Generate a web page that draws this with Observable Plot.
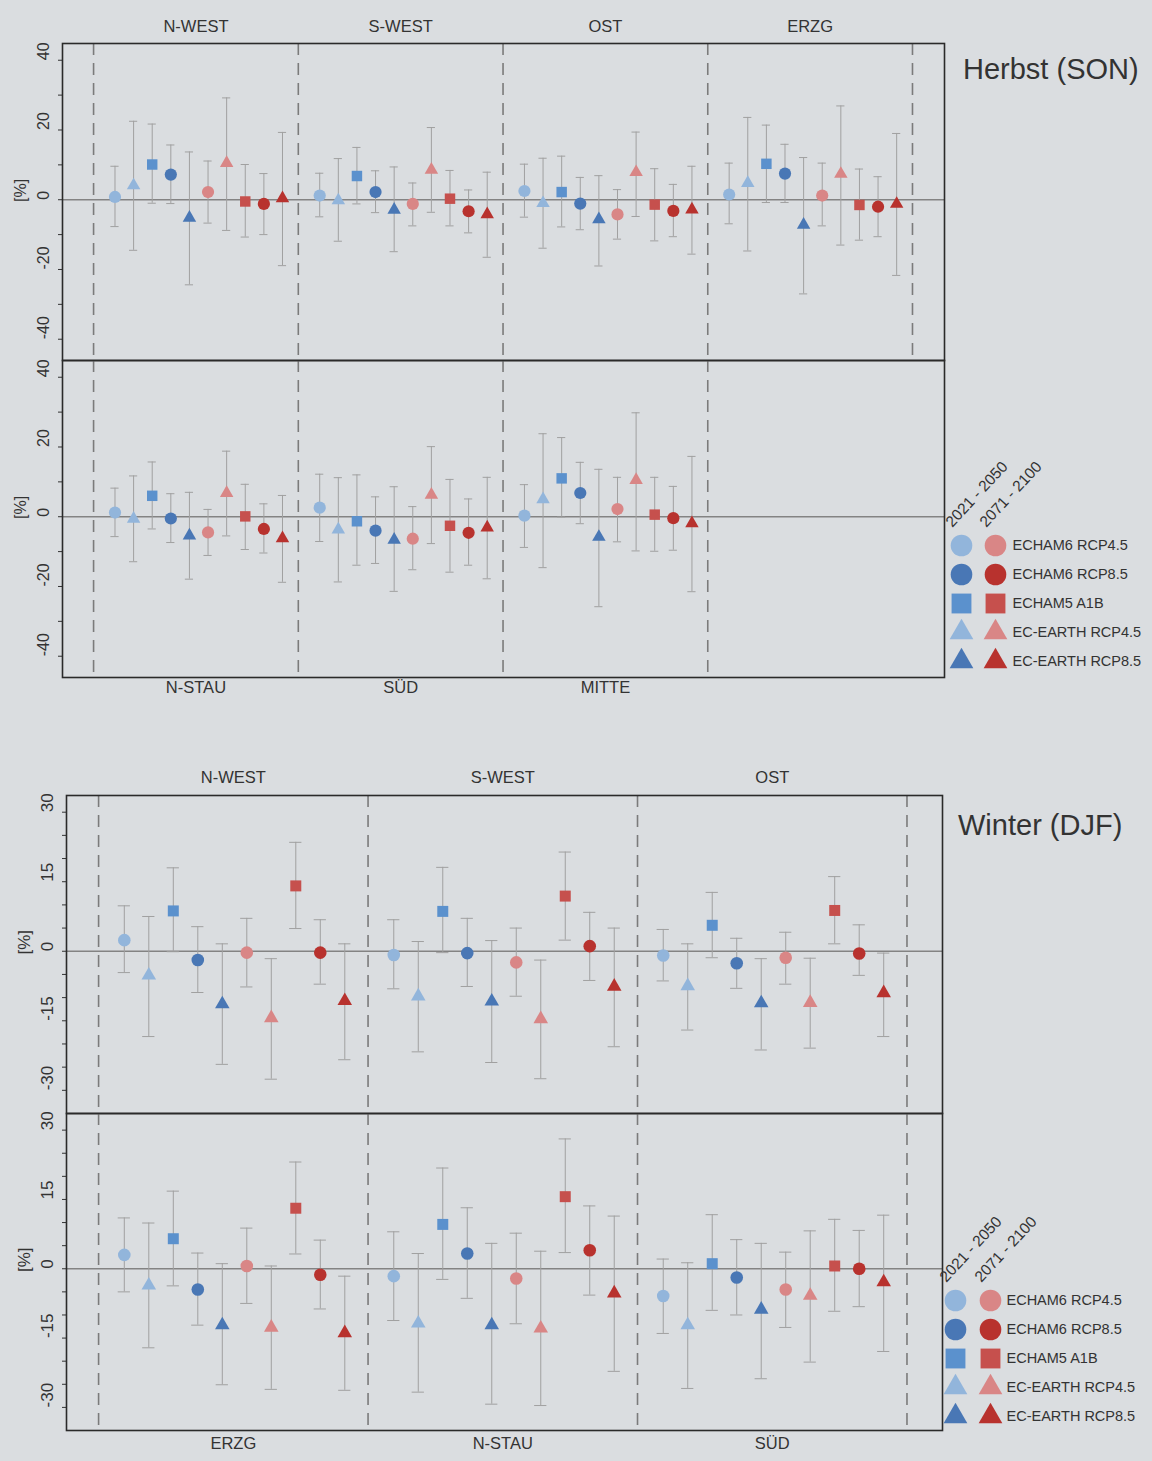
<!DOCTYPE html>
<html><head><meta charset="utf-8">
<script src="https://cdn.jsdelivr.net/npm/d3@7"></script>
<script src="https://cdn.jsdelivr.net/npm/@observablehq/plot@0.6"></script>
<style>
body{margin:0;background:#dadde0;}
#root{position:relative;width:1152px;height:1461px;overflow:hidden;font-family:"Liberation Sans",Arial,sans-serif;color:#333;}
#root svg{position:absolute;}
.title{position:absolute;font-size:29px;line-height:1;color:#333;white-space:nowrap;}
</style></head><body><div id="root"></div>
<script>
// ---------- categories ----------
const slotModels = ["ECHAM6 RCP4.5","EC-EARTH RCP4.5","ECHAM5 A1B","ECHAM6 RCP8.5","EC-EARTH RCP8.5"];
const legendModels = ["ECHAM6 RCP4.5","ECHAM6 RCP8.5","ECHAM5 A1B","EC-EARTH RCP4.5","EC-EARTH RCP8.5"];
const periods = ["2021 - 2050","2071 - 2100"];

// ---------- Herbst (SON), upper panel ----------
const herbstUpperRegions = ["N-WEST","S-WEST","OST","ERZG"];
const herbstUpperMean = [
  [0.8, 4.1, 10.1, 7.2, -5.2, 2.2, 10.5, -0.5, -1.2, 0.4],
  [1.2, -0.2, 6.8, 2.2, -2.9, -1.2, 8.6, 0.3, -3.3, -4.2],
  [2.5, -1.0, 2.2, -1.1, -5.6, -4.2, 7.9, -1.4, -3.2, -2.8],
  [1.5, 4.8, 10.3, 7.5, -7.2, 1.2, 7.4, -1.5, -2.0, -1.2]
];
const herbstUpperHi = [
  [9.6, 22.5, 21.7, 15.7, 13.7, 11.1, 29.2, 10.1, 7.5, 19.3],
  [7.6, 11.8, 15.0, 8.3, 9.4, 4.8, 20.7, 8.4, 2.8, 7.9],
  [10.2, 11.9, 12.5, 6.4, 6.9, 2.9, 19.4, 8.9, 4.4, 9.6],
  [10.5, 23.6, 21.4, 15.9, 12.1, 10.5, 26.9, 8.8, 6.6, 19.0]
];
const herbstUpperLo = [
  [-7.7, -14.5, -1.0, -1.1, -24.4, -6.7, -8.8, -10.7, -10.0, -18.9],
  [-4.9, -11.9, -1.2, -3.7, -14.9, -7.5, -3.6, -7.5, -9.5, -16.5],
  [-5.0, -13.9, -7.8, -8.6, -19.0, -11.3, -4.8, -11.8, -10.6, -15.6],
  [-6.9, -14.7, -0.8, -0.8, -27.0, -7.5, -13.0, -11.6, -10.6, -21.7]
];

// ---------- Herbst (SON), lower panel ----------
const herbstLowerRegions = ["N-STAU","SÜD","MITTE"];
const herbstLowerMean = [
  [1.2, -0.6, 6.0, -0.5, -5.4, -4.5, 6.8, 0.1, -3.5, -6.2],
  [2.6, -3.7, -1.3, -4.0, -6.6, -6.3, 6.3, -2.6, -4.6, -3.1],
  [0.3, 5.0, 11.0, 6.8, -5.8, 2.2, 10.5, 0.6, -0.4, -1.9]
];
const herbstLowerHi = [
  [8.2, 11.7, 15.7, 6.6, 7.0, 2.1, 18.8, 9.3, 3.7, 6.1],
  [12.2, 11.2, 12.0, 5.7, 8.6, 2.9, 20.1, 10.7, 5.1, 11.3],
  [9.2, 23.8, 22.7, 15.6, 13.6, 11.3, 29.8, 11.3, 8.7, 17.3]
];
const herbstLowerLo = [
  [-5.7, -12.9, -3.5, -7.4, -17.9, -11.1, -5.5, -9.4, -10.4, -18.8],
  [-7.1, -18.7, -13.9, -13.4, -21.4, -15.2, -7.7, -15.9, -13.9, -17.8],
  [-8.8, -14.6, -0.1, -2.0, -25.8, -7.2, -9.8, -9.9, -9.6, -21.5]
];

// ---------- Winter (DJF), upper panel ----------
const winterUpperRegions = ["N-WEST","S-WEST","OST"];
const winterUpperMean = [
  [2.4, -5.2, 8.7, -1.9, -11.4, -0.3, -14.4, 14.1, -0.3, -10.7],
  [-0.8, -9.7, 8.6, -0.4, -10.8, -2.4, -14.6, 11.9, 1.1, -7.6],
  [-0.9, -7.5, 5.6, -2.6, -11.2, -1.4, -11.1, 8.8, -0.5, -9.0]
];
const winterUpperHi = [
  [9.8, 7.5, 18.0, 5.3, 1.6, 7.1, -1.6, 23.5, 6.8, 1.6],
  [6.8, 2.1, 18.1, 7.1, 2.3, 5.0, -1.9, 21.4, 8.4, 5.0],
  [4.7, 1.6, 12.7, 2.8, -1.6, 4.1, -1.5, 16.1, 5.7, -0.4]
];
const winterUpperLo = [
  [-4.6, -18.4, -0.1, -8.9, -24.4, -7.7, -27.6, 4.9, -7.1, -23.4],
  [-8.1, -21.7, -0.3, -7.6, -24.0, -9.7, -27.5, 2.4, -6.3, -20.6],
  [-6.4, -17.0, -1.4, -8.0, -21.3, -7.1, -20.9, 1.6, -5.2, -18.4]
];

// ---------- Winter (DJF), lower panel ----------
const winterLowerRegions = ["ERZG","N-STAU","SÜD"];
const winterLowerMean = [
  [3.0, -3.6, 6.5, -4.5, -12.2, 0.6, -12.7, 13.1, -1.3, -13.9],
  [-1.6, -11.8, 9.6, 3.3, -12.2, -2.1, -12.9, 15.6, 4.0, -5.3],
  [-5.9, -12.2, 1.1, -1.9, -8.8, -4.5, -5.8, 0.6, 0.0, -2.9]
];
const winterLowerHi = [
  [11.0, 9.9, 16.8, 3.4, 1.1, 8.8, 0.6, 23.1, 6.2, -1.6],
  [8.0, 3.3, 21.8, 13.2, 5.5, 7.7, 3.8, 28.1, 13.6, 11.4],
  [2.1, 1.3, 11.7, 6.3, 5.5, 3.6, 8.2, 10.7, 8.3, 11.6]
];
const winterLowerLo = [
  [-5.0, -17.1, -3.7, -12.2, -25.1, -7.5, -26.1, 3.2, -8.7, -26.3],
  [-11.2, -26.7, -2.3, -6.4, -29.3, -11.9, -29.6, 3.5, -5.7, -22.2],
  [-14.0, -25.9, -9.0, -10.0, -23.8, -12.7, -20.2, -9.2, -8.2, -17.9]
];

// ---------- axis tick labels ----------
const herbstTicks = [-40, -30, -20, -10, 0, 10, 20, 30, 40];
const herbstTickLabels = [-40, -20, 0, 20, 40];
const winterTicks = [-30, -25, -20, -15, -10, -5, 0, 5, 10, 15, 20, 25, 30];
const winterTickLabels = [-30, -15, 0, 15, 30];

// ---------- styles ----------
const FONT = "Liberation Sans, Arial, Helvetica, sans-serif";
const symbolNames = ["circle","triangle","square","circle","triangle"];
const levelColors = {
  "2021 - 2050": {"4.5": "#92b5db", "A1B": "#5b91cd", "8.5": "#4977b5"},
  "2071 - 2100": {"4.5": "#d98686", "A1B": "#c6504d", "8.5": "#b8322e"}
};
function level(m) { return m.includes("4.5") ? "4.5" : m.includes("8.5") ? "8.5" : "A1B"; }
const keys = [], keyColors = [];
for (const p of periods) for (const m of slotModels) { keys.push(m + "|" + p); keyColors.push(levelColors[p][level(m)]); }
const colorScale = {domain: keys, range: keyColors};
const symbolScale = {domain: slotModels, range: symbolNames};
function sizeFor(m, base) {
  const s = symbolNames[slotModels.indexOf(m)];
  return s === "triangle" ? base.tri : s === "square" ? base.sq : base.circ;
}

function rows(regions, mean, hi, lo, offset) {
  const out = [];
  regions.forEach((r, i) => {
    for (let j = 0; j < 10; j++) {
      const period = periods[j < 5 ? 0 : 1];
      const model = slotModels[j % 5];
      out.push({region: r, pos: i * 11 + offset + j, model, period, key: model + "|" + period,
        mean: mean[i][j], hi: hi[i][j], lo: lo[i][j]});
    }
  });
  return out;
}

function panel(o) {
  const data = rows(o.regions, o.mean, o.hi, o.lo, o.offset);
  const dividers = d3.range(o.nDiv).map(i => i * 11);
  const baseline = [0];
  const svg = Plot.plot({
    width: 1152, height: o.marginTop + o.frameH + o.marginBottom,
    marginTop: o.marginTop, marginBottom: o.marginBottom, marginLeft: o.marginLeft, marginRight: o.marginRight,
    x: {domain: o.xDomain, axis: null},
    y: {domain: o.yDomain, axis: null},
    color: colorScale,
    symbol: symbolScale,
    r: {type: "identity"},
    style: {background: "transparent", overflow: "visible", fontFamily: FONT, color: "#333"},
    marks: [
      Plot.ruleX(dividers, {stroke: "#7b7b7b", strokeWidth: 1.6, strokeDasharray: "12,8"}),
      Plot.ruleY(baseline, {stroke: "#838383", strokeWidth: 1.4}),
      Plot.ruleX(data, {x: "pos", y1: "lo", y2: "hi", stroke: "#a0a0a0", strokeWidth: 1}),
      Plot.ruleY(data, {y: "hi", x1: d => d.pos - o.cap, x2: d => d.pos + o.cap, stroke: "#a0a0a0", strokeWidth: 1}),
      Plot.ruleY(data, {y: "lo", x1: d => d.pos - o.cap, x2: d => d.pos + o.cap, stroke: "#a0a0a0", strokeWidth: 1}),
      Plot.dot(data, {x: "pos", y: "mean", symbol: "model", fill: "key", r: d => sizeFor(d.model, o.sizes), stroke: "none"}),
      Plot.axisY(o.ticks, {tickSize: 4, tickFormat: () => "", label: null, stroke: "#333"}),
      Plot.text(o.tickLabels, {y: d => d, text: d => String(d), frameAnchor: "left", dx: o.tickDx, rotate: -90, fontSize: o.tickFont, fill: "#333"}),
      Plot.text(["[%]"], {text: d => d, frameAnchor: "left", dx: o.unitDx, rotate: -90, fontSize: o.tickFont, fill: "#333"}),
      Plot.text(o.regions, {x: (d, i) => i * 11 + 5.5, text: d => d, frameAnchor: o.labelSide, dy: o.labelDy, fontSize: 16.5, fill: "#333"}),
      Plot.frame({stroke: "#2a2a2a", strokeWidth: 1.6})
    ]
  });
  svg.style.left = "0px";
  svg.style.top = o.top + "px";
  return svg;
}

function legend(o) {
  const items = [];
  for (const m of legendModels) for (const p of periods) items.push({model: m, period: p, key: m + "|" + p});
  const svg = Plot.plot({
    width: o.width, height: o.height, margin: 0,
    x: {type: "point", domain: periods, range: o.xRange, padding: 0, axis: null},
    y: {type: "point", domain: legendModels, range: o.yRange, padding: 0, axis: null},
    color: colorScale,
    symbol: symbolScale,
    r: {type: "identity"},
    style: {background: "transparent", overflow: "visible", fontFamily: FONT},
    marks: [
      Plot.dot(items, {x: "period", y: "model", symbol: "model", fill: "key", r: d => sizeFor(d.model, {circ: 10.8, sq: 11.2, tri: 8.8}), stroke: "none"}),
      Plot.text(legendModels, {x: () => periods[1], y: d => d, text: d => d, dx: o.textDx, textAnchor: "start", fontSize: 14.5, fill: "#333"}),
      Plot.text(periods, {x: d => d, y: () => legendModels[0], text: d => d, dx: -13, dy: -21, rotate: -47, textAnchor: "start", fontSize: 15.5, fill: "#333"})
    ]
  });
  svg.style.left = o.left + "px";
  svg.style.top = o.top + "px";
  return svg;
}

const root = document.getElementById("root");
const herbstX = [-1.67, 45.72], winterX = [-1.31, 34.45];
const herbstY = [-46.1, 44.8], winterY = [-35.0, 33.6];
const herbstSizes = {circ: 6.1, sq: 5.9, tri: 5.0}, winterSizes = {circ: 6.3, sq: 6.2, tri: 5.4};

root.appendChild(panel({top: 0, marginTop: 43, frameH: 317, marginBottom: 1, marginLeft: 62, marginRight: 208,
  regions: herbstUpperRegions, mean: herbstUpperMean, hi: herbstUpperHi, lo: herbstUpperLo, offset: 1.15, nDiv: 5,
  xDomain: herbstX, yDomain: herbstY, ticks: herbstTicks, tickLabels: herbstTickLabels, tickDx: -18.5, unitDx: -42, tickFont: 16,
  labelSide: "top", labelDy: -23, cap: 0.22, sizes: herbstSizes}));
root.appendChild(panel({top: 359, marginTop: 1, frameH: 317, marginBottom: 40, marginLeft: 62, marginRight: 208,
  regions: herbstLowerRegions, mean: herbstLowerMean, hi: herbstLowerHi, lo: herbstLowerLo, offset: 1.15, nDiv: 4,
  xDomain: herbstX, yDomain: herbstY, ticks: herbstTicks, tickLabels: herbstTickLabels, tickDx: -18.5, unitDx: -42, tickFont: 16,
  labelSide: "bottom", labelDy: 15, cap: 0.22, sizes: herbstSizes}));
root.appendChild(panel({top: 745, marginTop: 50, frameH: 318, marginBottom: 1, marginLeft: 66, marginRight: 210,
  regions: winterUpperRegions, mean: winterUpperMean, hi: winterUpperHi, lo: winterUpperLo, offset: 1.05, nDiv: 4,
  xDomain: winterX, yDomain: winterY, ticks: winterTicks, tickLabels: winterTickLabels, tickDx: -19, unitDx: -41.5, tickFont: 17,
  labelSide: "top", labelDy: -24, cap: 0.25, sizes: winterSizes}));
root.appendChild(panel({top: 1112, marginTop: 1, frameH: 317, marginBottom: 31, marginLeft: 66, marginRight: 210,
  regions: winterLowerRegions, mean: winterLowerMean, hi: winterLowerHi, lo: winterLowerLo, offset: 1.05, nDiv: 4,
  xDomain: winterX, yDomain: winterY, ticks: winterTicks, tickLabels: winterTickLabels, tickDx: -19, unitDx: -41.5, tickFont: 17,
  labelSide: "bottom", labelDy: 18, cap: 0.25, sizes: winterSizes}));

root.appendChild(legend({left: 930, top: 440, width: 222, height: 240, xRange: [31, 65], yRange: [104, 221], textDx: 17}));
root.appendChild(legend({left: 925, top: 1195, width: 227, height: 240, xRange: [30, 65], yRange: [103, 222], textDx: 16}));

const t1 = document.createElement("div"); t1.className = "title"; t1.textContent = "Herbst (SON)";
t1.style.left = "963px"; t1.style.top = "55px"; root.appendChild(t1);
const t2 = document.createElement("div"); t2.className = "title"; t2.textContent = "Winter (DJF)";
t2.style.left = "958px"; t2.style.top = "811px"; root.appendChild(t2);
</script></body></html>
